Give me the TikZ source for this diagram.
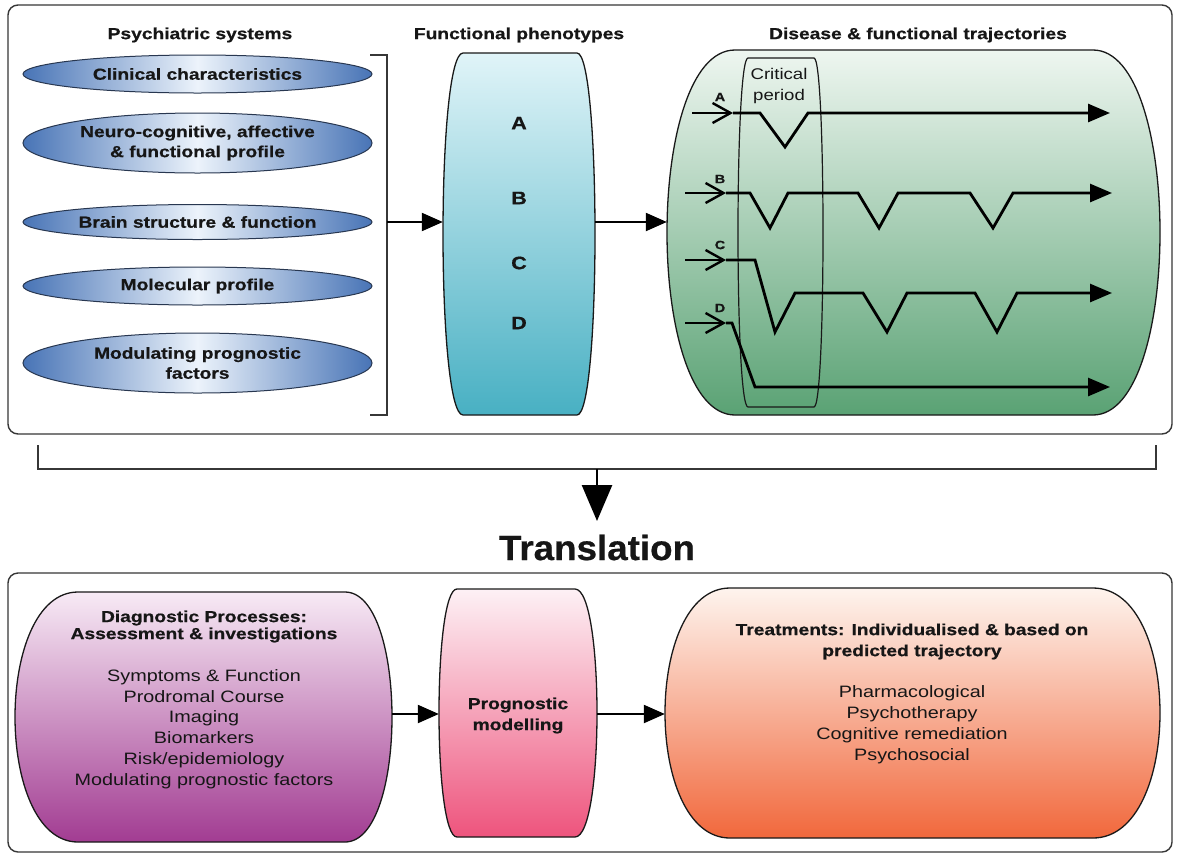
\documentclass[tikz,border=0pt]{standalone}
\usepackage{fontspec}
\setmainfont{Liberation Sans}[FakeStretch=1.2, BoldFeatures={FakeBold=0.6}]
\newfontfamily\transfont{Liberation Sans}[FakeStretch=1.05, BoldFeatures={FakeBold=0.6}]
\usetikzlibrary{arrows.meta,shapes.geometric}
\definecolor{txt}{RGB}{22,22,22}
\definecolor{panelc}{RGB}{55,55,55}
\definecolor{boxline}{RGB}{25,25,25}
\definecolor{ellblue}{RGB}{72,116,182}
\definecolor{ellmid}{RGB}{236,243,251}
\definecolor{ellline}{RGB}{40,55,80}
\definecolor{phtop}{RGB}{224,244,248}
\definecolor{phbot}{RGB}{72,176,195}
\definecolor{grtop}{RGB}{238,246,240}
\definecolor{grbot}{RGB}{90,162,116}
\definecolor{dgtop}{RGB}{247,234,245}
\definecolor{dgbot}{RGB}{162,60,146}
\definecolor{pgtop}{RGB}{253,241,245}
\definecolor{pgbot}{RGB}{238,84,125}
\definecolor{trtop}{RGB}{254,244,238}
\definecolor{trbot}{RGB}{241,104,60}
% barrel: style, xl, xr (flat ends), yt, yb, xL, xR (bulge)
\newcommand{\drawbarrel}[7]{%
  \path[#1] (#2,#4) -- (#3,#4)
    .. controls ({(4*#7-#3)/3},#4) and ({(4*#7-#3)/3},#5) .. (#3,#5)
    -- (#2,#5)
    .. controls ({(4*#6-#2)/3},#5) and ({(4*#6-#2)/3},#4) .. cycle;}
\begin{document}
\begin{tikzpicture}[x=1pt,y=-1pt,
  panel/.style={draw=panelc, line width=1.4pt, rounded corners=10pt, inner sep=0pt},
  head/.style={font=\fontsize{16}{19}\selectfont\bfseries, text=txt},
  ell/.style={ellipse, draw=ellline, line width=1pt, left color=ellblue, right color=ellblue, middle color=ellmid, minimum width=349pt, inner sep=0pt, align=center, font=\fontsize{16}{20}\selectfont\bfseries, text=txt},
  conn/.style={line width=2.2pt, -{Triangle[length=21pt,width=18pt]}},
  traj/.style={line width=2.8pt, -{Triangle[length=22pt,width=18pt]}},
  inarr/.style={line width=2.4pt, -{Straight Barb[length=18pt,width=20pt,line width=2.4pt]}},
  lbl/.style={font=\fontsize{12}{14}\selectfont\bfseries, text=txt},
  letter/.style={font=\fontsize{18}{20}\selectfont\bfseries, text=txt},
  outline/.style={draw=boxline, line width=1.3pt},
  holder/.style={inner sep=0pt, draw=none},
  body/.style={align=center, font=\fontsize{16.5}{20.8}\selectfont, text=txt},
  bodyb/.style={align=center, font=\fontsize{16.5}{21}\selectfont, text=txt},
  bold/.style={align=center, font=\fontsize{16}{17}\selectfont\bfseries, text=txt},
  boldb/.style={align=center, font=\fontsize{16}{21}\selectfont\bfseries, text=txt},
  brk/.style={draw=panelc, line width=1.6pt}
]
\useasboundingbox (0,0) rectangle (1180,855);
\fill[white] (0,0) rectangle (1180,855);

% ---------- top panel ----------
\node[panel, minimum width=1164pt, minimum height=429pt] (toppanel) at (590,219.5) {};

\node[head] (h1) at (200,35) {Psychiatric systems};
\node[head] (h2) at (519,35) {Functional phenotypes};
\node[head] (h3) at (918,35) {Disease \& functional trajectories};

\node[ell, minimum height=38pt] (e1) at (197.5,74) {Clinical characteristics};
\node[ell, minimum height=60pt] (e2) at (197.5,143) {Neuro-cognitive, affective\\\& functional profile};
\node[ell, minimum height=35pt] (e3) at (197.5,222) {Brain structure \& function};
\node[ell, minimum height=38pt] (e4) at (197.5,286) {Molecular profile};
\node[ell, minimum height=60pt] (e5) at (197.5,363) {Modulating prognostic\\factors};

% bracket
\coordinate (bt) at (370,55);
\coordinate (bb) at (370,415);
\coordinate (bm) at (387,222);
\draw[brk] (bt) -- (387,55) -- (387,415) -- (bb);

% phenotypes
\drawbarrel{outline, top color=phtop, bottom color=phbot}{463}{577}{53}{415}{443}{595}
\node[holder, minimum width=152pt, minimum height=362pt] (pheno) at (519,234) {};
\node[letter] (pA) at (519,123) {A};
\node[letter] (pB) at (519,198) {B};
\node[letter] (pC) at (519,263) {C};
\node[letter] (pD) at (519,323) {D};

% trajectories box
\drawbarrel{outline, top color=grtop, bottom color=grbot}{735}{1093}{50}{415}{667}{1160}
\node[holder, minimum width=493pt, minimum height=365pt] (trajbox) at (913.5,232.5) {};

\draw[conn] (bm) -- (bm -| pheno.west);
\draw[conn] (pheno.east |- bm) -- (trajbox.west |- bm);

% critical period
\drawbarrel{draw=boxline, line width=1.2pt}{748}{814}{58}{407}{738}{823}
\node[bodyb, font=\fontsize{15.5}{21}\selectfont] (crit) at (779,85.5) {Critical\\period};

% trajectory A
\coordinate (A0) at (692,113); \coordinate (A1) at (733,113);
\draw[inarr] (A0) -- (A1);
\draw[traj] (A1) -- (760,113) -- (785,147) -- (808,113) -- (1110,113);
\node[lbl] (lA) at (720,97) {A};
% B
\coordinate (B0) at (685,193); \coordinate (B1) at (726,193);
\draw[inarr] (B0) -- (B1);
\draw[traj] (B1) -- (750,193) -- (770,228) -- (788,193) -- (858,193) -- (879,228) -- (898,193) -- (970,193) -- (993,228) -- (1013,193) -- (1112,193);
\node[lbl] (lB) at (720,179) {B};
% C
\coordinate (C0) at (685,260); \coordinate (C1) at (726,260);
\draw[inarr] (C0) -- (C1);
\draw[traj] (C1) -- (755,260) -- (775,332) -- (795,293) -- (863,293) -- (887,332) -- (907,293) -- (975,293) -- (997,332) -- (1017,293) -- (1112,293);
\node[lbl] (lC) at (720,245) {C};
% D
\coordinate (D0) at (685,323); \coordinate (D1) at (726,323);
\draw[inarr] (D0) -- (D1);
\draw[traj] (D1) -- (732,323) -- (755,387) -- (1110,387);
\node[lbl] (lD) at (720,308) {D};

% ---------- translation ----------
\coordinate (tm) at (597,469);
\coordinate (tt) at (597,521);
\draw[brk] (38,445) -- (38,469) -- (1156,469) -- (1156,445);
\draw[line width=2.6pt, -{Triangle[length=36pt,width=30pt]}] (tm) -- (tt);
\node[font=\fontsize{35}{40}\transfont\bfseries, text=txt] (trans) at (597,547.5) {Translation};

% ---------- bottom panel ----------
\node[panel, minimum width=1164pt, minimum height=279pt] (botpanel) at (590,712.5) {};

\drawbarrel{outline, top color=dgtop, bottom color=dgbot}{78}{345}{592}{842}{15}{392}
\node[holder, minimum width=377pt, minimum height=250pt] (diag) at (203.5,717) {};
\node[bold] (dgt) at (204,626.5) {Diagnostic Processes:\\Assessment \& investigations};
\node[body] (dgb) at (204,729) {Symptoms \& Function\\Prodromal Course\\Imaging\\Biomarkers\\Risk/epidemiology\\Modulating prognostic factors};

\drawbarrel{outline, top color=pgtop, bottom color=pgbot}{457}{575}{589}{837}{439}{597}
\node[holder, minimum width=158pt, minimum height=248pt] (prog) at (518,713) {};
\node[boldb] (pgt) at (518,715.5) {Prognostic\\modelling};

\drawbarrel{outline, top color=trtop, bottom color=trbot}{730}{1093}{588}{838}{665}{1160}
\node[holder, minimum width=495pt, minimum height=250pt] (treat) at (912.5,713) {};
\node[boldb] (trt) at (912,641.5) {Treatments: Individualised \& based on\\predicted trajectory};
\node[bodyb] (trb) at (912,724.5) {Pharmacological\\Psychotherapy\\Cognitive remediation\\Psychosocial};

\coordinate (ar) at (0,714);
\draw[conn] (diag.east |- ar) -- (prog.west |- ar);
\draw[conn] (prog.east |- ar) -- (treat.west |- ar);
\end{tikzpicture}
\end{document}
